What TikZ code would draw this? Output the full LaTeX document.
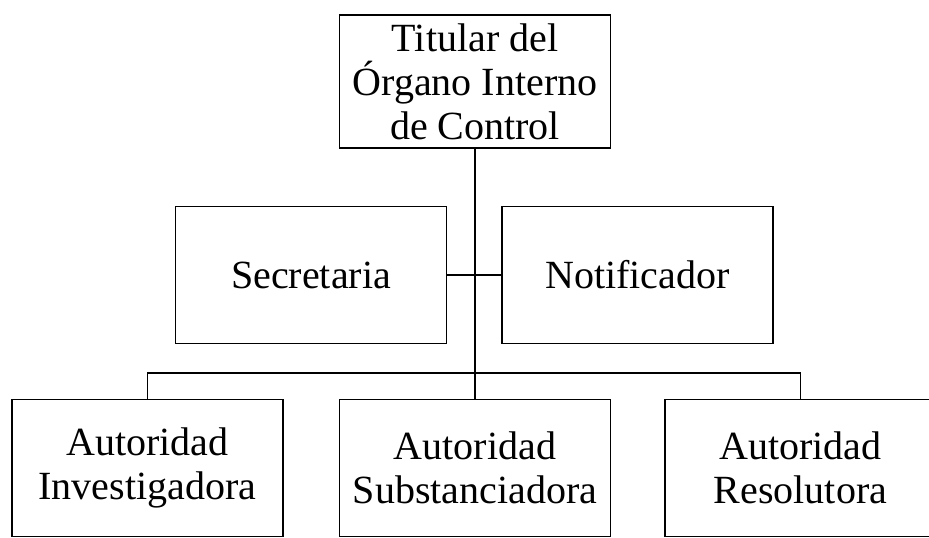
\documentclass[tikz,border=0pt]{standalone}
\usepackage{fontspec}
\setmainfont{Liberation Serif}
\tikzset{
  box/.style = {draw, line width=1.4pt, minimum width=271pt,
                minimum height=#1, inner sep=0pt, align=center,
                font=\fontsize{40}{44}\selectfont},
  box/.default = 137pt
}

\begin{document}
\begin{tikzpicture}[x=1pt, y=-1pt, line width=1.4pt]
	\useasboundingbox (0,0) rectangle (929,538);
	\def \bus{373}

	% Titular
	\node[box=133pt] (titular) at (475,81.5) {Titular del\\Órgano Interno\\de Control};

	% Secretaria / Notificador
	\node[box] (secretaria) at (311,275) {Secretaria};
	\node[box] (notificador) at (637.5,275) {Notificador};

	% Autoridades
	\node[box] (investigadora) at (147.5,468) {Autoridad\\Investigadora};
	\node[box] (substanciadora) at (475,468) {Autoridad\\Substanciadora};
	\node[box] (resolutora) at (800.5,468) {Autoridad\\Resolutora};

	% Lines
	\coordinate (split) at (475,\bus);
	\draw (titular.south) -- (substanciadora.north);
	\draw (secretaria.east) -- (notificador.west);
	\draw (investigadora.north) |- (split) -| (resolutora.north);

\end{tikzpicture}
\end{document}
